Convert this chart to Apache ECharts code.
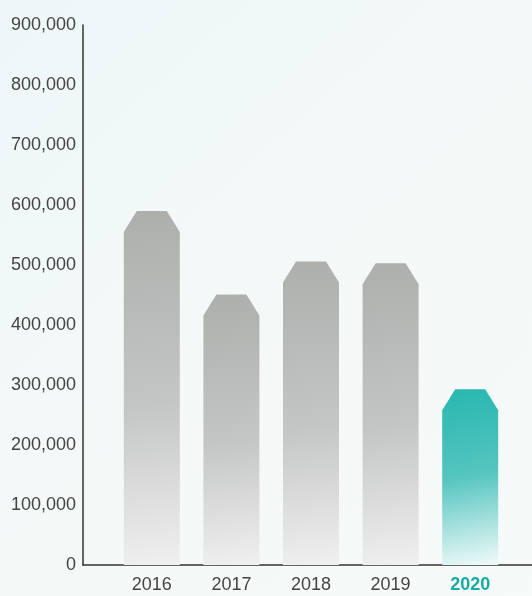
<!DOCTYPE html>
<html>
<head>
<meta charset="utf-8">
<script src="https://cdn.jsdelivr.net/npm/echarts@6/dist/echarts.min.js"></script>
<style>
  html, body { margin: 0; padding: 0; }
  #chart { width: 532px; height: 596px; }
</style>
</head>
<body>
<div id="chart"></div>
<script>
const years = ['2016', '2017', '2018', '2019', '2020']
const values = [590000, 451000, 506000, 503000, 293000]
const highlightYear = '2020'
const yMax = 900000
const yStep = 100000

const chart = echarts.init(document.getElementById('chart'))

function barFill(highlight) {
  const stops = highlight
    ? [{ offset: 0, color: '#27b7b0' }, { offset: 0.5, color: '#55c5bf' }, { offset: 1, color: '#eaf8f7' }]
    : [{ offset: 0, color: '#adafad' }, { offset: 0.55, color: '#c4c6c5' }, { offset: 1, color: '#efefef' }]
  return new echarts.graphic.LinearGradient(0, 0, 0.6, 1, stops)
}

function renderBar(params, api) {
  const idx = api.value(0)
  const top = api.coord([idx, api.value(1)])
  const base = api.coord([idx, 0])
  const hw = 28, cx = 13, cy = 21
  const x = top[0]
  return {
    type: 'polygon',
    shape: {
      points: [
        [x - hw, base[1]],
        [x - hw, top[1] + cy],
        [x - hw + cx, top[1]],
        [x + hw - cx, top[1]],
        [x + hw, top[1] + cy],
        [x + hw, base[1]],
      ],
    },
    style: { fill: barFill(years[idx] === highlightYear) },
  }
}

const font = '"Liberation Sans", Helvetica, Arial, sans-serif'

chart.setOption({
  backgroundColor: new echarts.graphic.LinearGradient(0, 0, 1, 1, [
    { offset: 0, color: '#eef6f8' },
    { offset: 0.4, color: '#f3f9f8' },
    { offset: 1, color: '#f6faf9' },
  ]),
  grid: [
    { left: 83, right: 0, top: 25, bottom: 31 },
    { left: 112, right: 22, top: 25, bottom: 31 },
  ],
  xAxis: [
    {
      gridIndex: 0, type: 'value', min: 0, max: 1,
      axisLine: { show: true, lineStyle: { color: '#333', width: 1.5 } },
      axisTick: { show: false }, axisLabel: { show: false }, splitLine: { show: false },
    },
    {
      gridIndex: 1, type: 'category', data: years,
      axisLine: { show: false }, axisTick: { show: false },
      axisLabel: {
        interval: 0, margin: 11, fontFamily: font, fontSize: 18, color: '#444',
        formatter: (v) => (v === highlightYear ? '{hl|' + v + '}' : v),
        rich: { hl: { fontFamily: font, fontSize: 18, fontWeight: 'bold', color: '#17aba3' } },
      },
    },
  ],
  yAxis: [
    {
      gridIndex: 0, type: 'value', min: 0, max: yMax, interval: yStep,
      axisLine: { show: true, lineStyle: { color: '#333', width: 1.5 } },
      axisTick: { show: false }, splitLine: { show: false },
      axisLabel: {
        margin: 7, fontFamily: font, fontSize: 18, color: '#444',
        formatter: (v) => v.toLocaleString('en-US'),
      },
    },
    {
      gridIndex: 1, type: 'value', min: 0, max: yMax, interval: yStep,
      show: false,
    },
  ],
  series: [
    {
      type: 'custom',
      xAxisIndex: 1,
      yAxisIndex: 1,
      renderItem: renderBar,
      data: values.map((v, i) => [i, v]),
    },
  ],
})
</script>
</body>
</html>
